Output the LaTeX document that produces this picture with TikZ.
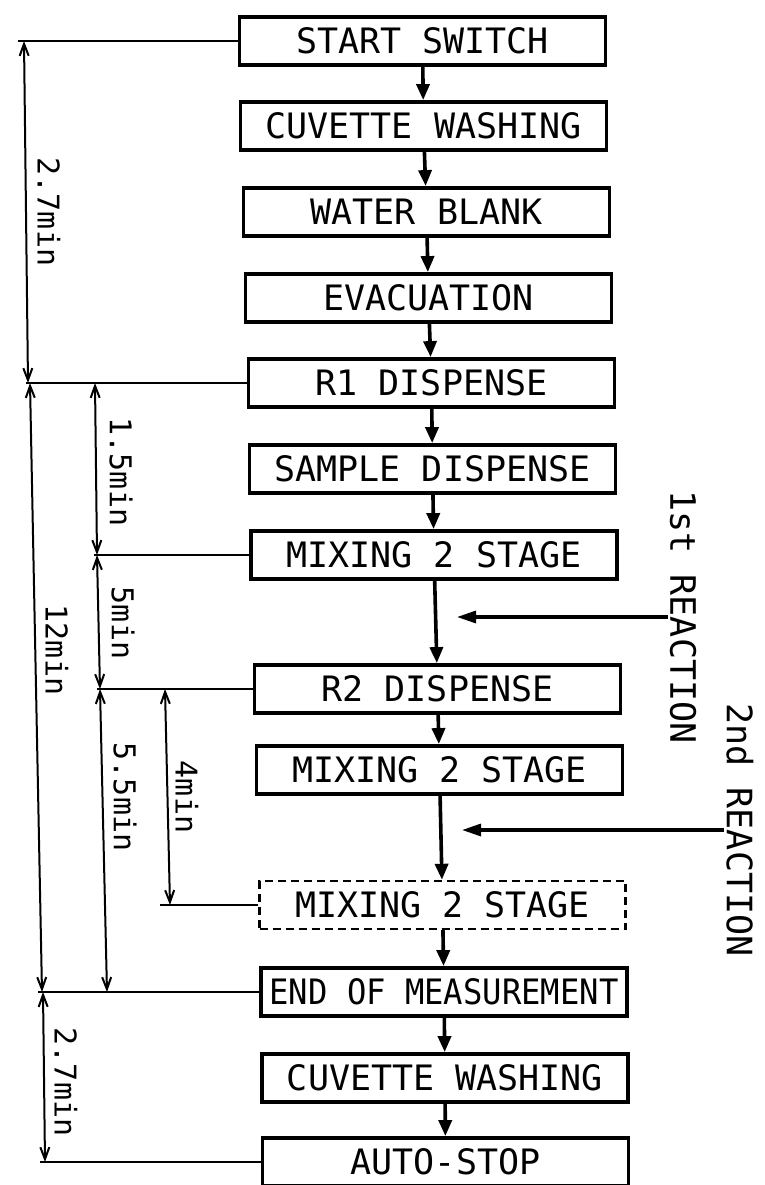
\documentclass[tikz,border=0pt]{standalone}
\usepackage{fontspec}
\newfontfamily\dfont{DejaVu Sans Mono}
\usetikzlibrary{arrows.meta}
\begin{document}
\begin{tikzpicture}[x=1pt,y=-1pt,
  stage/.style={draw, line width=3.8pt, minimum width=366pt, minimum height=48pt, inner sep=0pt, font=\dfont\fontsize{35}{40}\selectfont},
  flow/.style={line width=3.6pt, -{Triangle[length=16pt,width=13pt]}},
  rflow/.style={line width=3.2pt, -{Triangle[length=19pt,width=12pt]}},
  dim/.style={line width=2pt, {Straight Barb[length=12pt,width=9pt]}-{Straight Barb[length=12pt,width=9pt]}},
  ext/.style={line width=2pt},
  lbl/.style={rotate=-90, inner sep=0pt, font=\dfont\fontsize{30}{34}\selectfont},
  rlbl/.style={rotate=-90, inner sep=2pt, font=\dfont\fontsize{35}{40}\selectfont}]
\useasboundingbox (0,0) rectangle (765,1185);
\fill[white] (0,0) rectangle (765,1185);

% stages
\node[stage] (s1)  at (422.5,41)  {START SWITCH};
\node[stage] (s2)  at (423.5,126) {CUVETTE WASHING};
\node[stage] (s3)  at (426.5,212) {WATER BLANK};
\node[stage] (s4)  at (428.5,298) {EVACUATION};
\node[stage] (s5)  at (431.5,383) {R1 DISPENSE};
\node[stage] (s6)  at (432.5,469) {SAMPLE DISPENSE};
\node[stage] (s7)  at (434,555)   {MIXING 2 STAGE};
\node[stage] (s8)  at (437.5,689) {R2 DISPENSE};
\node[stage] (s9)  at (439.5,770) {MIXING 2 STAGE};
\node[stage, line width=2.4pt, dash pattern=on 8pt off 5pt] (s10) at (442.5,905) {MIXING 2 STAGE};
\node[stage] (s11) at (444,992)   {\scalebox{0.92}[1]{END OF MEASUREMENT}};
\node[stage] (s12) at (445,1078)  {CUVETTE WASHING};
\node[stage] (s13) at (445.5,1162) {AUTO-STOP};

% flow arrows
\draw[flow] (s1) -- (s2);
\draw[flow] (s2) -- (s3);
\draw[flow] (s3) -- (s4);
\draw[flow] (s4) -- (s5);
\draw[flow] (s5) -- (s6);
\draw[flow] (s6) -- (s7);
\draw[flow] (s7) -- (s8);
\draw[flow] (s8) -- (s9);
\draw[flow] (s9) -- (s10);
\draw[flow] (s10) -- (s11);
\draw[flow] (s11) -- (s12);
\draw[flow] (s12) -- (s13);

% reaction labels and arrows
\node[rlbl] (r1) at (683,617) {1st REACTION};
\coordinate (r1a) at (457,617);
\draw[rflow] (r1.south) -- (r1a);
\node[rlbl] (r2) at (740,830) {2nd REACTION};
\coordinate (r2a) at (462,830);
\draw[rflow] (r2.south) -- (r2a);

% extension lines
\coordinate (eA) at (18,41);
\coordinate (eB) at (26,383);
\coordinate (eC) at (94,555);
\coordinate (eD) at (97,689);
\coordinate (eE) at (160,905);
\coordinate (eF) at (38,992);
\coordinate (eG) at (40,1162);
\draw[ext] (s1.west) -- (eA);
\draw[ext] (s5.west) -- (eB);
\draw[ext] (s7.west) -- (eC);
\draw[ext] (s8.west) -- (eD);
\draw[ext] (s10.west) -- (eE);
\draw[ext] (s11.west) -- (eF);
\draw[ext] (s13.west) -- (eG);

% dimension arrows
\coordinate (a1) at (24,41);
\coordinate (a2) at (28,383);
\coordinate (b1) at (30,383);
\coordinate (b2) at (42,992);
\coordinate (c1) at (43,992);
\coordinate (c2) at (45,1162);
\coordinate (d1) at (95,383);
\coordinate (d2) at (97,555);
\coordinate (d3) at (100,689);
\coordinate (d4) at (107,992);
\coordinate (f1) at (165,689);
\coordinate (f2) at (170,905);
\draw[dim] (a1) -- (a2);
\draw[dim] (b1) -- (b2);
\draw[dim] (c1) -- (c2);
\draw[dim] (d1) -- (d2);
\draw[dim] (d2) -- (d3);
\draw[dim] (d3) -- (d4);
\draw[dim] (f1) -- (f2);

% dimension labels
\node[lbl] (l1) at (49,212)  {2.7min};
\node[lbl] (l2) at (57,650)  {12min};
\node[lbl] (l3) at (66,1082) {2.7min};
\node[lbl] (l4) at (121,472) {1.5min};
\node[lbl] (l5) at (123,623) {5min};
\node[lbl] (l6) at (125,797) {5.5min};
\node[lbl] (l7) at (187,797) {4min};
\end{tikzpicture}
\end{document}
